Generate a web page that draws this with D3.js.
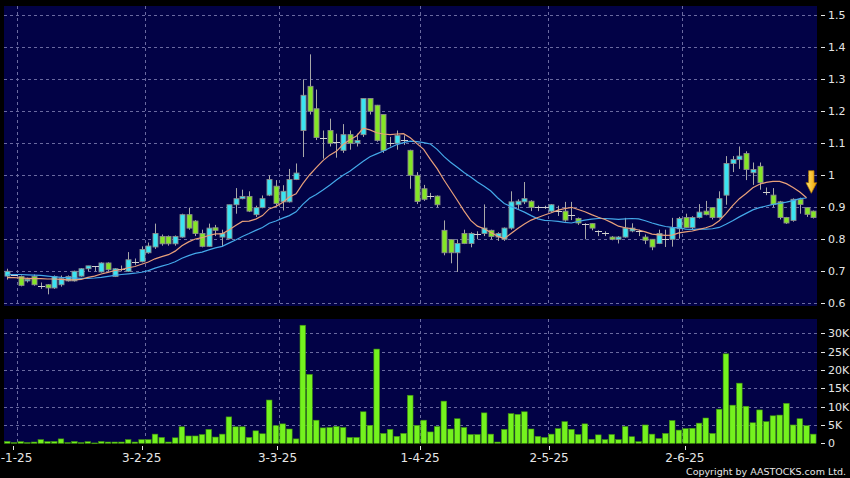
<!DOCTYPE html>
<html><head><meta charset="utf-8">
<script src="https://cdn.jsdelivr.net/npm/d3@7/dist/d3.min.js"></script>
<style>
html,body{margin:0;padding:0;background:#000;}
svg{display:block;}
text{font-family:"DejaVu Sans",sans-serif;}
</style></head>
<body>
<svg id="chart" width="850" height="478"></svg>
<script>
// ---------- DATA ----------
const dateLabels = ["2-1-25","3-2-25","3-3-25","1-4-25","2-5-25","2-6-25"];
const dateIdx    = [2,21,41,62,81,101];
const priceTicks = [0.6,0.7,0.8,0.9,1.0,1.1,1.2,1.3,1.4,1.5];
const priceTickLabels = ["0.6","0.7","0.8","0.9","1","1.1","1.2","1.3","1.4","1.5"];
const volTicks = [0,5,10,15,20,25,30];
const volTickLabels = ["0","5K","10K","15K","20K","25K","30K"];

const open = [0.685,0.69,0.684,0.670,0.684,0.655,0.658,0.648,0.658,0.670,
0.67,0.685,0.708,0.716,0.698,0.726,0.684,0.708,0.70,0.73,
0.73,0.758,0.776,0.809,0.809,0.786,0.807,0.877,0.857,0.818,
0.778,0.836,0.807,0.802,0.908,0.927,0.934,0.877,0.899,0.938,
0.966,0.917,0.917,0.987,1.14,1.278,1.208,1.118,1.14,1.105,
1.078,1.127,1.101,1.127,1.24,1.219,1.19,1.10,1.10,1.11,
1.078,1.0,0.958,0.935,0.935,0.828,0.799,0.758,0.818,0.787,
0.818,0.818,0.828,0.807,0.80,0.835,0.908,0.917,0.919,0.90,
0.90,0.888,0.89,0.888,0.875,0.865,0.849,0.849,0.826,0.821,
0.807,0.80,0.807,0.826,0.826,0.807,0.80,0.787,0.80,0.80,
0.833,0.868,0.837,0.868,0.888,0.899,0.868,0.938,1.037,1.049,
1.068,1.008,1.028,0.948,0.938,0.917,0.868,0.859,0.925,0.899,0.888];
const high = [0.708,0.69,0.687,0.68,0.69,0.665,0.66,0.687,0.687,0.687,
0.702,0.71,0.717,0.716,0.728,0.728,0.71,0.718,0.76,0.74,
0.778,0.79,0.849,0.815,0.812,0.812,0.88,0.899,0.86,0.83,
0.849,0.845,0.83,0.908,0.96,0.955,0.95,0.905,0.937,1.0,
0.985,0.969,1.02,1.037,1.30,1.378,1.268,1.14,1.177,1.13,
1.16,1.14,1.13,1.24,1.24,1.22,1.19,1.12,1.14,1.125,
1.08,1.01,0.97,0.945,0.937,0.859,0.80,0.80,0.83,0.822,
0.825,0.909,0.83,0.822,0.837,0.95,0.925,0.979,0.922,0.905,
0.905,0.91,0.905,0.917,0.917,0.868,0.85,0.85,0.828,0.825,
0.81,0.81,0.867,0.85,0.83,0.815,0.80,0.83,0.83,0.867,
0.87,0.88,0.872,0.91,0.92,0.90,0.95,1.06,1.06,1.09,
1.075,1.04,1.04,0.962,0.96,0.92,0.87,0.928,0.93,0.90,0.89];
const low = [0.674,0.69,0.653,0.665,0.655,0.645,0.628,0.645,0.652,0.668,
0.668,0.683,0.70,0.70,0.696,0.70,0.682,0.70,0.698,0.72,
0.728,0.755,0.77,0.78,0.78,0.78,0.805,0.83,0.81,0.775,
0.776,0.81,0.777,0.80,0.88,0.925,0.885,0.87,0.897,0.935,
0.905,0.89,0.915,0.985,1.057,1.19,1.11,1.052,1.09,1.055,
1.07,1.08,1.09,1.12,1.19,1.105,1.07,1.09,1.08,1.095,
0.958,0.91,0.92,0.925,0.90,0.75,0.725,0.698,0.785,0.775,
0.80,0.81,0.80,0.795,0.795,0.83,0.895,0.91,0.888,0.888,
0.895,0.885,0.873,0.855,0.86,0.845,0.80,0.828,0.81,0.81,
0.797,0.787,0.805,0.822,0.81,0.785,0.766,0.785,0.776,0.777,
0.802,0.835,0.83,0.865,0.875,0.862,0.865,0.908,1.01,1.02,
0.985,0.97,0.955,0.938,0.90,0.862,0.848,0.855,0.88,0.87,0.865];
const close = [0.700,0.690,0.656,0.675,0.658,0.655,0.648,0.684,0.677,0.684,
0.700,0.708,0.717,0.716,0.726,0.705,0.708,0.708,0.736,0.730,
0.768,0.779,0.818,0.786,0.786,0.809,0.877,0.835,0.818,0.778,
0.835,0.828,0.818,0.908,0.927,0.934,0.888,0.899,0.927,0.987,
0.912,0.950,0.987,1.007,1.250,1.200,1.118,1.118,1.100,1.105,
1.127,1.100,1.109,1.240,1.200,1.109,1.078,1.100,1.125,1.110,
1.000,0.918,0.925,0.935,0.908,0.758,0.758,0.787,0.787,0.818,
0.818,0.835,0.809,0.818,0.835,0.917,0.919,0.927,0.900,0.900,
0.900,0.908,0.890,0.860,0.875,0.851,0.849,0.835,0.826,0.821,
0.800,0.807,0.835,0.835,0.826,0.797,0.776,0.818,0.800,0.836,
0.865,0.837,0.868,0.885,0.877,0.868,0.927,1.037,1.049,1.060,
1.018,1.018,0.977,0.948,0.909,0.868,0.851,0.925,0.909,0.878,0.868];
const volumeK = [0.5,0.2,0.45,0.2,0.35,1.0,0.45,0.5,1.2,0.2,
0.5,0.2,0.45,0.1,0.5,0.35,0.35,0.35,1.0,0.35,
1.0,1.0,2.5,1.6,0.35,1.5,4.5,2.0,2.0,2.4,
3.8,1.7,2.5,7.2,4.5,4.5,1.6,3.4,2.6,11.8,
4.8,5.3,3.9,1.2,32.2,18.8,6.3,4.2,4.3,4.6,
4.3,1.6,1.6,8.6,4.9,25.7,2.7,3.8,1.9,2.7,
13.1,4.9,6.3,3.1,4.6,11.5,3.9,6.7,4.3,2.4,
2.4,8.3,2.5,0.35,3.8,8.1,7.9,8.6,3.9,1.9,
1.6,2.5,4.0,5.9,3.8,2.4,5.3,1.1,2.3,1.0,
2.4,1.0,4.6,1.8,0.45,5.0,2.5,1.3,2.7,6.2,
3.6,4.0,4.1,5.5,6.9,2.7,9.3,24.4,10.4,16.4,
10.1,5.6,9.1,5.9,7.5,7.7,10.9,5.0,6.7,4.8,2.5];
const ma10 = [0.680,0.680,0.679,0.678,0.677,0.677,0.676,0.676,0.675,0.673,
0.673,0.6745,0.681,0.685,0.6915,0.6965,0.7025,0.705,0.711,0.715,
0.722,0.729,0.739,0.746,0.752,0.763,0.780,0.792,0.801,0.805,
0.812,0.817,0.817,0.829,0.843,0.856,0.857,0.863,0.874,0.895,
0.903,0.915,0.932,0.942,0.974,1.001,1.024,1.046,1.063,1.075,
1.096,1.111,1.123,1.147,1.142,1.133,1.129,1.127,1.129,1.130,
1.117,1.099,1.081,1.050,1.021,0.986,0.954,0.922,0.889,0.859,
0.841,0.833,0.821,0.810,0.802,0.818,0.834,0.848,0.860,0.868,
0.876,0.883,0.891,0.896,0.900,0.893,0.886,0.877,0.869,0.862,
0.852,0.841,0.836,0.833,0.829,0.823,0.816,0.814,0.812,0.813,
0.820,0.823,0.826,0.831,0.836,0.843,0.858,0.880,0.905,0.927,
0.943,0.961,0.972,0.978,0.981,0.981,0.974,0.962,0.948,0.930];
const ma20 = [0.690,0.690,0.690,0.689,0.688,0.687,0.685,0.683,0.681,0.680,
0.679,0.678,0.678,0.679,0.681,0.684,0.687,0.690,0.692,0.694,
0.697,0.702,0.710,0.716,0.722,0.730,0.741,0.749,0.756,0.760,
0.767,0.773,0.778,0.788,0.798,0.809,0.818,0.828,0.837,0.850,
0.857,0.866,0.874,0.886,0.909,0.928,0.940,0.954,0.969,0.985,
1.000,1.013,1.028,1.044,1.058,1.067,1.076,1.086,1.096,1.102,
1.107,1.105,1.102,1.098,1.081,1.059,1.041,1.025,1.009,0.995,
0.979,0.966,0.951,0.930,0.912,0.902,0.894,0.885,0.874,0.864,
0.859,0.858,0.856,0.853,0.851,0.856,0.860,0.863,0.865,0.865,
0.864,0.862,0.864,0.865,0.864,0.858,0.851,0.845,0.840,0.837,
0.836,0.832,0.831,0.832,0.832,0.833,0.837,0.847,0.858,0.870,
0.881,0.892,0.899,0.904,0.909,0.912,0.916,0.921,0.927,0.929];

// ---------- LAYOUT ----------
const W = 850, H = 478;
const plotL = 4, plotR = 817;
const pTop = 6, pBot = 306;
const vTop = 319, vBot = 443;
const C = {
  bg:"#020246", grid:"#6a6aa0", up:"#3ae4f2", down:"#84e626",
  edge:"#8c8c8c", wick:"#a8a8a8", doji:"#d0d0d0",
  ma10:"#e8a07a", ma20:"#44a8e8", vol:"#74f21e", volEdge:"#3f8f10", txt:"#e6e6e6"
};
const idx = d3.range(close.length);
const xb = d3.scaleBand().domain(idx).range([plotL - 0.1, plotR - 0.4]).paddingInner(0);
const xc = i => xb(i) + xb.bandwidth()/2;
const xt = d3.scaleLinear().domain([0,120]).range([-0.9, 813.9]); // label/tick placement
const y = d3.scaleLinear().domain([0.6,1.5]).range([303.3,15.3]);
const yv = d3.scaleLinear().domain([0,30]).range([443.3,333.3]);

const svg = d3.select("#chart");
svg.append("rect").attr("width",W).attr("height",H).attr("fill","#000");

svg.append("rect").attr("x",plotL).attr("y",pTop).attr("width",plotR-plotL).attr("height",pBot-pTop).attr("fill",C.bg);
svg.append("rect").attr("x",plotL).attr("y",vTop).attr("width",plotR-plotL).attr("height",vBot-vTop).attr("fill",C.bg);

const grid = svg.append("g").attr("stroke",C.grid).attr("stroke-width",1).attr("stroke-dasharray","3,3").attr("shape-rendering","crispEdges");
grid.selectAll(".hp").data(priceTicks).join("line")
  .attr("x1",plotL).attr("x2",plotR).attr("y1",d=>Math.round(y(d))+0.5).attr("y2",d=>Math.round(y(d))+0.5);
grid.selectAll(".hv").data(volTicks.filter(d=>d>0)).join("line").attr("class","hv")
  .attr("x1",plotL).attr("x2",plotR).attr("y1",d=>Math.round(yv(d))+0.5).attr("y2",d=>Math.round(yv(d))+0.5);
dateIdx.forEach(di=>{
  const gx = Math.round(xb(di))+0.5;
  grid.append("line").attr("x1",gx).attr("x2",gx).attr("y1",pTop).attr("y2",pBot);
  grid.append("line").attr("x1",gx).attr("x2",gx).attr("y1",vTop).attr("y2",vBot);
});

svg.append("clipPath").attr("id","clipP").append("rect").attr("x",plotL).attr("y",pTop).attr("width",plotR-plotL).attr("height",pBot-pTop);

const cg = svg.append("g").attr("clip-path","url(#clipP)");
const bw = 5;
cg.selectAll(".wick").data(idx).join("line")
  .attr("x1",i=>Math.round(xc(i))+0.5).attr("x2",i=>Math.round(xc(i))+0.5)
  .attr("y1",i=>y(high[i])).attr("y2",i=>y(low[i]))
  .attr("stroke",C.wick).attr("stroke-width",1);
const bodies = idx.filter(i=>Math.abs(close[i]-open[i])>0.0005);
cg.selectAll(".body").data(bodies).join("rect")
  .attr("x",i=>Math.round(xc(i))-2)
  .attr("y",i=>y(Math.max(open[i],close[i])))
  .attr("width",bw)
  .attr("height",i=>Math.max(1.5, y(Math.min(open[i],close[i]))-y(Math.max(open[i],close[i]))))
  .attr("fill",i=>close[i]>open[i]?C.up:C.down)
  .attr("stroke",C.edge).attr("stroke-width",0.9);
const dojis = idx.filter(i=>Math.abs(close[i]-open[i])<=0.0005);
cg.selectAll(".doji").data(dojis).join("line")
  .attr("x1",i=>Math.round(xc(i))-3).attr("x2",i=>Math.round(xc(i))+4)
  .attr("y1",i=>Math.round(y(close[i]))+0.5).attr("y2",i=>Math.round(y(close[i]))+0.5)
  .attr("stroke",C.doji).attr("stroke-width",1);

const lineFn = arr => d3.line().x((d,i)=>xc(i)).y(d=>y(d)).curve(d3.curveLinear)(arr);
cg.append("path").attr("d",lineFn(ma20)).attr("fill","none").attr("stroke",C.ma20).attr("stroke-width",1.2);
cg.append("path").attr("d",lineFn(ma10)).attr("fill","none").attr("stroke",C.ma10).attr("stroke-width",1.2);

const ai = ma10.length-1;
const ax = xc(ai)+4.8, ayTip = y(ma10[ai])-4.4;
const defs = svg.append("defs");
const grad = defs.append("linearGradient").attr("id","ag").attr("x1","0").attr("x2","1").attr("y1","0").attr("y2","0");
grad.append("stop").attr("offset","0%").attr("stop-color","#ffe872");
grad.append("stop").attr("offset","100%").attr("stop-color","#f0a000");
const ap = [[ax-2.7,ayTip-22.6],[ax+2.7,ayTip-22.6],[ax+2.7,ayTip-10.6],[ax+5.4,ayTip-10.6],[ax,ayTip],[ax-5.4,ayTip-10.6],[ax-2.7,ayTip-10.6]];
svg.append("path").attr("d","M"+ap.map(p=>p.join(",")).join("L")+"Z")
  .attr("fill","url(#ag)").attr("stroke","#b07800").attr("stroke-width",0.7);

svg.append("g").selectAll("rect").data(idx).join("rect")
  .attr("x",i=>xc(i)-2.8).attr("width",5.6)
  .attr("y",i=>yv(volumeK[i])).attr("height",i=>Math.max(0.8, yv(0)-yv(volumeK[i])))
  .attr("fill",C.vol).attr("stroke",C.volEdge).attr("stroke-width",0.6);

const ra = svg.append("g");
ra.selectAll(".pt").data(priceTicks).join("line")
  .attr("x1",821).attr("x2",825).attr("y1",d=>Math.round(y(d))+0.5).attr("y2",d=>Math.round(y(d))+0.5)
  .attr("stroke",C.txt).attr("stroke-width",1);
ra.selectAll(".pl").data(priceTicks).join("text")
  .attr("x",828).attr("y",d=>y(d)+4).attr("font-size",11).attr("fill",C.txt)
  .text((d,i)=>priceTickLabels[i]);
ra.selectAll(".vt").data(volTicks).join("line").attr("class","vt")
  .attr("x1",821).attr("x2",825).attr("y1",d=>Math.round(yv(d))+0.5).attr("y2",d=>Math.round(yv(d))+0.5)
  .attr("stroke",C.txt).attr("stroke-width",1);
ra.selectAll(".vl").data(volTicks).join("text").attr("class","vl")
  .attr("x",828).attr("y",d=>yv(d)+4).attr("font-size",11).attr("fill",C.txt)
  .text((d,i)=>volTickLabels[i]);

const ba = svg.append("g");
dateIdx.forEach((di,k)=>{
  const tx = xt(di);
  ba.append("line").attr("x1",Math.round(tx)+0.5).attr("x2",Math.round(tx)+0.5).attr("y1",446).attr("y2",450)
    .attr("stroke",C.txt).attr("stroke-width",1);
  ba.append("text").attr("x",tx).attr("y",462).attr("text-anchor","middle")
    .attr("font-size",12).attr("fill",C.txt).text(dateLabels[k]);
});

svg.append("text").attr("x",846).attr("y",475).attr("text-anchor","end")
  .attr("font-size",9.5).attr("fill",C.txt).text("Copyright by AASTOCKS.com Ltd.");
</script>
</body></html>
